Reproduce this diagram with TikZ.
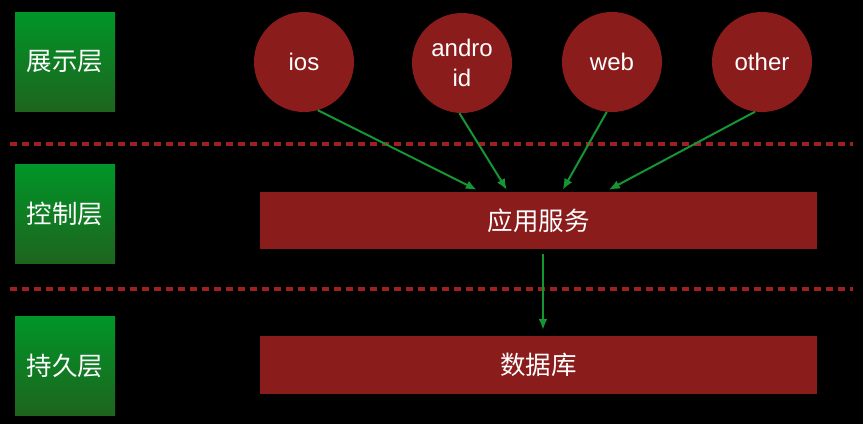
\documentclass[tikz,border=0pt]{standalone}
\usepackage{fontspec}
\setmainfont{Liberation Sans}
\newfontfamily\cjk{Noto Sans CJK SC}
\usetikzlibrary{arrows.meta}
\definecolor{darkred}{RGB}{139, 28, 28}
\definecolor{dashred}{RGB}{160, 32, 32}
\definecolor{topgreen}{RGB}{0, 150, 40}
\definecolor{botgreen}{RGB}{30, 100, 30}
\definecolor{arrowgreen}{RGB}{20, 150, 50}
\tikzset{
layer/.style = {top color = topgreen, bottom color = botgreen, minimum width = 100pt, minimum height = 99pt, inner sep = 0pt, text = white, font = \cjk\fontsize{25.5}{28}\selectfont},
client/.style = {circle, fill = darkred, minimum size = 100pt, inner sep = 0pt, text = white, align = center, font = \fontsize{24}{30}\selectfont},
service/.style = {fill = darkred, minimum width = 557pt, minimum height = 57pt, inner sep = 0pt, text = white, font = \cjk\fontsize{25.5}{30}\selectfont},
flow/.style = {arrowgreen, line width = 2pt, -{Latex[length = 11pt, width = 9pt]}}
}

\begin{document}
\begin{tikzpicture}[x = 1pt, y = -1pt]
\fill[black] (0,0) rectangle (863,424);
\foreach \y in {144, 289} \draw[dashred, line width = 3.2pt, dash pattern = on 7pt off 5pt] (10,\y) -- (853,\y);
\node[layer] (show) at (65,61.5) {展示层};
\node[layer] (control) at (65,213.5) {控制层};
\node[layer] (persist) at (65,365.5) {持久层};
\node[client] (ios) at (304,62) {ios};
\node[client] (android) at (462,63) {andro\\id};
\node[client] (web) at (612,62) {web};
\node[client] (other) at (762,62) {other};
\node[service] (app) at (538.5,220.5) {应用服务};
\node[service, minimum height = 58pt] (db) at (538.5,365) {数据库};
\draw[flow] (ios.-74) -- ([shift = {(217,-2)}]app.north west);
\draw[flow] (android.-93) -- ([shift = {(247,-2)}]app.north west);
\draw[flow] (web.-96) -- ([shift = {(303,-2)}]app.north west);
\draw[flow] (other.-98) -- ([shift = {(349,-2)}]app.north west);
\draw[flow] ([shift = {(4.5,5)}]app.south) -- ([shift = {(4.5,-6)}]db.north);
\end{tikzpicture}
\end{document}
